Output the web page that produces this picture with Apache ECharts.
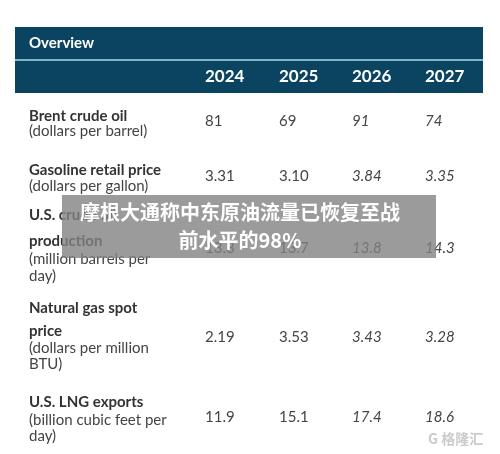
<!DOCTYPE html>
<html><head><meta charset="utf-8">
<script src="https://cdn.jsdelivr.net/npm/echarts@6/dist/echarts.min.js"></script>
<style>html,body{margin:0;padding:0;background:#fff}#c{width:500px;height:454px}</style>
</head><body><div id="c"></div>
<script>
const years = ['2024','2025','2026','2027'];
const rowTitles = [['Brent crude oil'],['Gasoline retail price'],['U.S. crude oil','production'],['Natural gas spot','price'],['U.S. LNG exports']];
const rowUnits = [['(dollars per barrel)'],['(dollars per gallon)'],['(million barrels per','day)'],['(dollars per million','BTU)'],['(billion cubic feet per','day)']];
const values = [['81','69','91','74'],['3.31','3.10','3.84','3.35'],['13.3','13.7','13.8','14.3'],['2.19','3.53','3.43','3.28'],['11.9','15.1','17.4','18.6']];
const overlayText = '摩根大通称中东原油流量已恢复至战\n前水平的98%';

const F = 'Lato, "Open Sans", sans-serif';
const g = [];
g.push({type:'rect',shape:{x:15,y:27,width:468,height:66},style:{fill:'#0b4461'}});
g.push({type:'rect',shape:{x:15,y:59,width:468,height:2},style:{fill:'#7fb4c8'}});
g.push({type:'text',x:29,y:43,style:{text:'Overview',font:'bold 15px '+F,fill:'#fff',verticalAlign:'middle'}});
const colX=[205,279,352,425];
years.forEach((y,i)=>g.push({type:'text',x:colX[i],y:77,style:{text:y,font:'bold 17px '+F,fill:'#fff',verticalAlign:'middle'}}));
const titleY=[[116],[170],[215,241],[308,331],[402]];
const unitY=[[131],[186],[259,276],[348,364],[420,436]];
const valY=[121,176,248,337,417];
rowTitles.forEach((t,r)=>{
  t.forEach((s,k)=>g.push({type:'text',x:29,y:titleY[r][k],style:{text:s,font:'bold 15px '+F,fill:'#333',verticalAlign:'middle'}}));
  rowUnits[r].forEach((s,k)=>g.push({type:'text',x:29,y:unitY[r][k],style:{text:s,font:'15px '+F,fill:'#444',verticalAlign:'middle'}}));
  values[r].forEach((v,i)=>g.push({type:'text',x:colX[i],y:valY[r],style:{text:v,font:(i>=2?'italic ':'')+'15px '+F,fill:'#444',verticalAlign:'middle'}}));
});
g.push({type:'rect',shape:{x:62,y:195,width:374,height:63},style:{fill:'rgba(130,130,130,0.8)'}});
g.push({type:'text',x:240,y:226,style:{text:overlayText,font:'bold 20px "Noto Sans CJK SC"',fill:'#fff',align:'center',verticalAlign:'middle',lineHeight:28}});
g.push({type:'text',x:428,y:439,style:{text:'G 格隆汇',font:'bold 14px "Noto Sans CJK SC"',fill:'rgba(190,190,190,0.8)',verticalAlign:'middle'}});
const chart = echarts.init(document.getElementById('c'));
chart.setOption({animation:false,graphic:g});
</script></body></html>
